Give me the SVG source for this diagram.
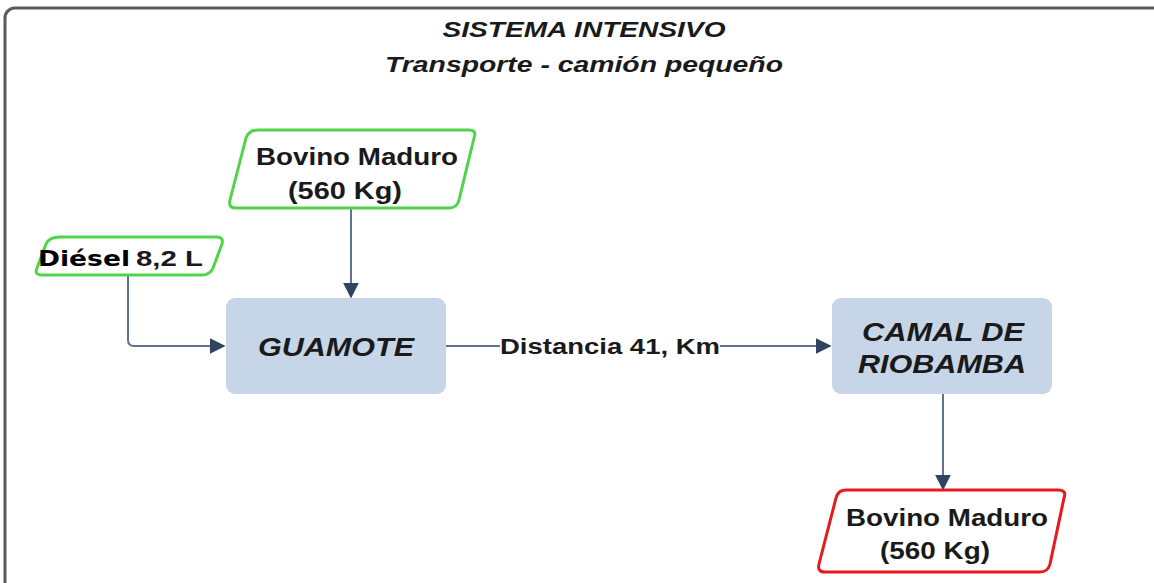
<svg xmlns="http://www.w3.org/2000/svg" width="1154" height="583" viewBox="0 0 1154 583">
<defs>
<style>
.frame{fill:#fff;stroke:#5a5a5a;stroke-width:3}
.io{fill:#fff;stroke-width:3;stroke-linejoin:round}
.green{stroke:#4fd44a}
.red{stroke:#e8191e}
.proc{fill:#c6d5e7}
.t{font-family:"Liberation Sans",Arial,sans-serif;font-weight:bold;fill:#1a1a1a}
.ti{font-style:italic}
.conn{fill:none;stroke:#5f7390;stroke-width:2}
</style>
<marker id="ah2" viewBox="0 0 10 10" refX="9" refY="5" markerWidth="16" markerHeight="16" markerUnits="userSpaceOnUse" orient="auto">
<path d="M0,0 L10,5 L0,10 Z" fill="#2f4463"/>
</marker>
</defs>
<rect width="1154" height="583" fill="#fff"/>
<rect class="frame" x="5" y="8" width="1160" height="600" rx="10"/>
<g id="title">
<text class="t ti" x="584" y="37" font-size="22" text-anchor="middle" textLength="283" lengthAdjust="spacingAndGlyphs">SISTEMA INTENSIVO</text>
<text class="t ti" x="584" y="72" font-size="22" text-anchor="middle" textLength="398" lengthAdjust="spacingAndGlyphs">Transporte - camión pequeño</text>
</g>
<g id="connectors">
<path class="conn" d="M351,208 V297" marker-end="url(#ah2)"/>
<path class="conn" d="M128,275 V340 Q128,346 134,346 H224" marker-end="url(#ah2)"/>
<path class="conn" d="M446,346 H500"/>
<path class="conn" d="M720,346 H830" marker-end="url(#ah2)"/>
<path class="conn" d="M943,394 V489" marker-end="url(#ah2)"/>
<text class="t" x="610" y="354" font-size="22" text-anchor="middle" textLength="220" lengthAdjust="spacingAndGlyphs">Distancia 41, Km</text>
</g>
<g id="bovino-in">
<path class="io green" d="M258,130 H469 Q477,130 474,138 L459,200 Q457,208 449,208 H236 Q228,208 230,200 L246,138 Q249,130 258,130 Z"/>
<text class="t" x="357" y="165" font-size="23" text-anchor="middle" textLength="202" lengthAdjust="spacingAndGlyphs">Bovino Maduro</text>
<text class="t" x="345" y="199" font-size="23" text-anchor="middle" textLength="114" lengthAdjust="spacingAndGlyphs">(560 Kg)</text>
</g>
<g id="diesel">
<path class="io green" d="M60,237 H216 Q224,237 222,244 L213,268 Q210,275 202,275 H42 Q34,275 37,268 L46,244 Q49,237 60,237 Z"/>
<text class="t" x="38" y="266" font-size="22"><tspan font-family="'DejaVu Sans',sans-serif" font-weight="900" fill="#000" textLength="92" lengthAdjust="spacingAndGlyphs">Diésel</tspan><tspan x="136" textLength="67" lengthAdjust="spacingAndGlyphs">8,2 L</tspan></text>
</g>
<g id="guamote">
<rect class="proc" x="226" y="298" width="220" height="96" rx="9"/>
<text class="t ti" x="336" y="356" font-size="25" text-anchor="middle" textLength="156" lengthAdjust="spacingAndGlyphs">GUAMOTE</text>
</g>
<g id="camal">
<rect class="proc" x="832" y="298" width="220" height="96" rx="9"/>
<text class="t ti" x="943" y="341" font-size="25" text-anchor="middle" textLength="162" lengthAdjust="spacingAndGlyphs">CAMAL DE</text>
<text class="t ti" x="942" y="373" font-size="25" text-anchor="middle" textLength="168" lengthAdjust="spacingAndGlyphs">RIOBAMBA</text>
</g>
<g id="bovino-out">
<path class="io red" d="M846,490 H1058 Q1067,490 1064,498 L1050,564 Q1048,572 1040,572 H825 Q817,572 819,564 L836,498 Q838,490 846,490 Z"/>
<text class="t" x="947" y="526" font-size="23" text-anchor="middle" textLength="202" lengthAdjust="spacingAndGlyphs">Bovino Maduro</text>
<text class="t" x="935" y="559" font-size="23" text-anchor="middle" textLength="110" lengthAdjust="spacingAndGlyphs">(560 Kg)</text>
</g>
</svg>
